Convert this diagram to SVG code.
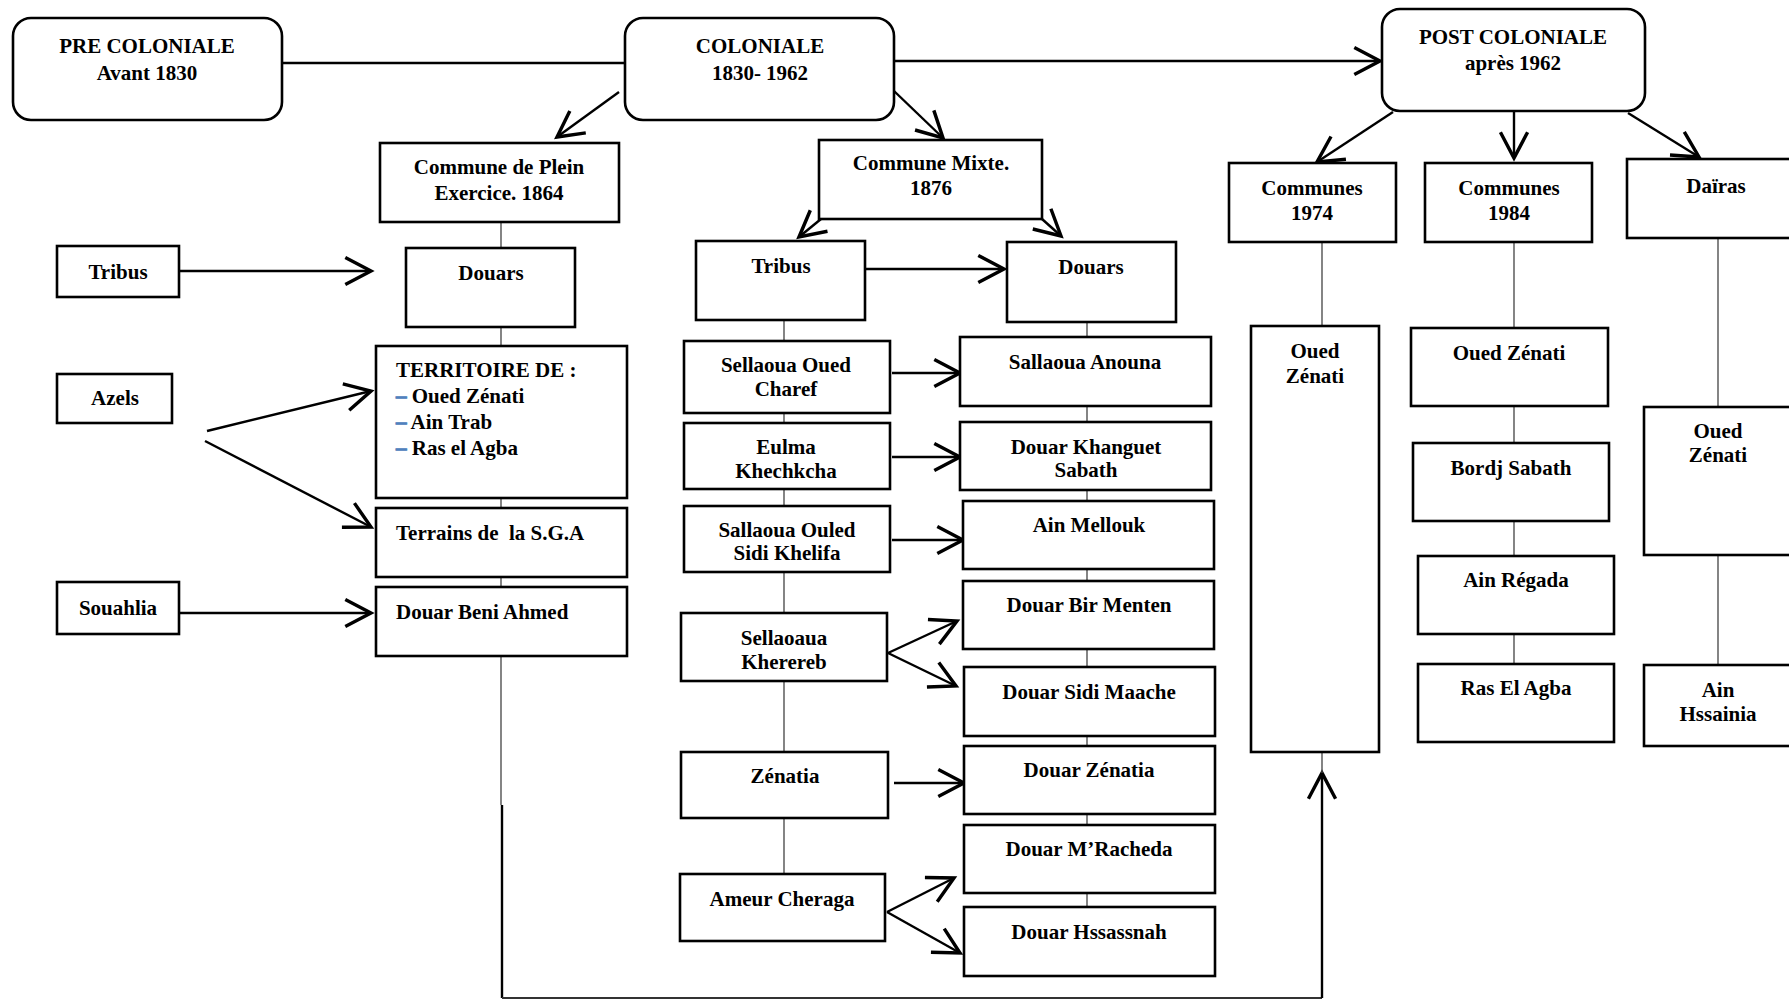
<svg xmlns="http://www.w3.org/2000/svg" width="1789" height="1000" viewBox="0 0 1789 1000">
<style>
.b{fill:#fff;stroke:#000;stroke-width:2.6}
.r{fill:#fff;stroke:#000;stroke-width:2.6}
text{font-family:"Liberation Serif","Times New Roman",serif;font-weight:bold;font-size:21px;fill:#000}
.c{text-anchor:middle}
.d{fill:#4f81bd;stroke:#4f81bd;stroke-width:1}
.a{fill:none;stroke:#000;stroke-width:2.4;marker-end:url(#ah)}
.p{fill:none;stroke:#000;stroke-width:2.4}
.t{fill:none;stroke:#444;stroke-width:1.3}
</style>
<defs>
<marker id="ah" markerUnits="userSpaceOnUse" markerWidth="40" markerHeight="40" viewBox="-22 -14 26 28" refX="0" refY="0" orient="auto" overflow="visible">
<path d="M-18,-9.5 L0,0 L-18,9.5" fill="none" stroke="#000" stroke-width="2.4"/>
</marker>
</defs>
<rect width="1789" height="1000" fill="#fff"/>
<g id="connectors">
<line class="p" x1="282" y1="63" x2="625" y2="63"/>
<line class="a" x1="894" y1="61" x2="1380" y2="61"/>
<line class="a" x1="619" y1="92" x2="557" y2="137"/>
<line class="a" x1="894" y1="91" x2="943" y2="138"/>
<line class="a" x1="821" y1="219" x2="799" y2="237"/>
<line class="a" x1="1042" y1="219" x2="1061" y2="236"/>
<line class="a" x1="1393" y1="112" x2="1317" y2="162"/>
<line class="a" x1="1514" y1="111" x2="1514" y2="158"/>
<line class="a" x1="1628" y1="113" x2="1699" y2="157"/>
<line class="a" x1="179" y1="271" x2="371" y2="271"/>
<line class="a" x1="207" y1="431" x2="371" y2="391"/>
<line class="a" x1="205" y1="441" x2="371" y2="527"/>
<line class="a" x1="179" y1="613" x2="371" y2="613"/>
<line class="a" x1="865" y1="269" x2="1004" y2="269"/>
<line class="a" x1="892" y1="373" x2="960" y2="373"/>
<line class="a" x1="892" y1="457" x2="960" y2="457"/>
<line class="a" x1="892" y1="540" x2="963" y2="540"/>
<line class="a" x1="888" y1="653" x2="957" y2="621"/>
<line class="a" x1="888" y1="653" x2="956" y2="686"/>
<line class="a" x1="894" y1="783" x2="964" y2="783"/>
<line class="a" x1="887" y1="912" x2="954" y2="878"/>
<line class="a" x1="887" y1="912" x2="960" y2="953"/>
<line class="p" x1="502" y1="805" x2="502" y2="998"/>
<line x1="502" y1="998" x2="1322" y2="998" stroke="#333" stroke-width="1.8"/>
<line class="a" x1="1322" y1="998" x2="1322" y2="773"/>
<path class="t" d="M501,222V248M501,327V346M501,498V508M501,577V587M501,656V805"/>
<path class="t" d="M784,320V341M784,413V423M784,489V506M784,572V613M784,681V752M784,818V874"/>
<path class="t" d="M1087,322V337M1087,406V422M1087,490V501M1087,569V581M1087,649V667M1087,736V746M1087,814V825M1087,893V907"/>
<path class="t" d="M1322,242V326M1322,752V773"/>
<path class="t" d="M1514,242V328M1514,406V443M1514,521V556M1514,634V664"/>
<path class="t" d="M1718,238V407M1718,555V665"/>
</g>
<g id="pre"><rect class="r" x="13" y="18" width="269" height="102" rx="18"/><text class="c" x="147" y="53">PRE COLONIALE</text><text class="c" x="147" y="80">Avant 1830</text></g>
<g id="coloniale"><rect class="r" x="625" y="18" width="269" height="102" rx="18"/><text class="c" x="760" y="53">COLONIALE</text><text class="c" x="760" y="80">1830- 1962</text></g>
<g id="post"><rect class="r" x="1382" y="9" width="263" height="102" rx="18"/><text class="c" x="1513" y="44">POST COLONIALE</text><text class="c" x="1513" y="70">après 1962</text></g>
<g id="cpe"><rect class="b" x="380" y="143" width="239" height="79"/><text class="c" x="499" y="174">Commune de Plein</text><text class="c" x="499" y="200">Exercice. 1864</text></g>
<g id="cm"><rect class="b" x="819" y="140" width="223" height="79"/><text class="c" x="931" y="170">Commune Mixte.</text><text class="c" x="931" y="195">1876</text></g>
<g id="c1974"><rect class="b" x="1229" y="163" width="167" height="79"/><text class="c" x="1312" y="195">Communes</text><text class="c" x="1312" y="220">1974</text></g>
<g id="c1984"><rect class="b" x="1425" y="163" width="167" height="79"/><text class="c" x="1509" y="195">Communes</text><text class="c" x="1509" y="220">1984</text></g>
<g id="dairas"><rect class="b" x="1627" y="159" width="180" height="79"/><text class="c" x="1716" y="193">Daïras</text></g>
<g id="tribus-l"><rect class="b" x="57" y="246" width="122" height="51"/><text class="c" x="118" y="279">Tribus</text></g>
<g id="douars-l"><rect class="b" x="406" y="248" width="169" height="79"/><text class="c" x="491" y="280">Douars</text></g>
<g id="azels"><rect class="b" x="57" y="374" width="115" height="49"/><text class="c" x="115" y="405">Azels</text></g>
<g id="souahlia"><rect class="b" x="57" y="582" width="122" height="52"/><text class="c" x="118" y="615">Souahlia</text></g>
<g id="territoire"><rect class="b" x="376" y="346" width="251" height="152"/><text x="396" y="377">TERRITOIRE DE :</text><text x="396" y="403"><tspan class="d">–</tspan> Oued Zénati</text><text x="396" y="429"><tspan class="d">–</tspan> Ain Trab</text><text x="396" y="455"><tspan class="d">–</tspan> Ras el Agba</text></g>
<g id="terrains"><rect class="b" x="376" y="508" width="251" height="69"/><text x="396" y="540" xml:space="preserve">Terrains de  la S.G.A</text></g>
<g id="beni-ahmed"><rect class="b" x="376" y="587" width="251" height="69"/><text x="396" y="619">Douar Beni Ahmed</text></g>
<g id="tribus-m"><rect class="b" x="696" y="241" width="169" height="79"/><text class="c" x="781" y="273">Tribus</text></g>
<g id="douars-m"><rect class="b" x="1007" y="242" width="169" height="80"/><text class="c" x="1091" y="274">Douars</text></g>
<g id="charef"><rect class="b" x="684" y="341" width="206" height="72"/><text class="c" x="786" y="372">Sellaoua Oued</text><text class="c" x="786" y="396">Charef</text></g>
<g id="eulma"><rect class="b" x="684" y="423" width="206" height="66"/><text class="c" x="786" y="454">Eulma</text><text class="c" x="786" y="478">Khechkcha</text></g>
<g id="khelifa"><rect class="b" x="684" y="506" width="206" height="66"/><text class="c" x="787" y="537">Sallaoua Ouled</text><text class="c" x="787" y="560">Sidi Khelifa</text></g>
<g id="kherereb"><rect class="b" x="681" y="613" width="206" height="68"/><text class="c" x="784" y="645">Sellaoaua</text><text class="c" x="784" y="669">Kherereb</text></g>
<g id="zenatia"><rect class="b" x="681" y="752" width="207" height="66"/><text class="c" x="785" y="783">Zénatia</text></g>
<g id="ameur"><rect class="b" x="680" y="874" width="205" height="67"/><text class="c" x="782" y="906">Ameur Cheraga</text></g>
<g id="anouna"><rect class="b" x="960" y="337" width="251" height="69"/><text class="c" x="1085" y="369">Sallaoua Anouna</text></g>
<g id="khanguet"><rect class="b" x="960" y="422" width="251" height="68"/><text class="c" x="1086" y="454">Douar Khanguet</text><text class="c" x="1086" y="477">Sabath</text></g>
<g id="mellouk"><rect class="b" x="963" y="501" width="251" height="68"/><text class="c" x="1089" y="532">Ain Mellouk</text></g>
<g id="bir-menten"><rect class="b" x="963" y="581" width="251" height="68"/><text class="c" x="1089" y="612">Douar Bir Menten</text></g>
<g id="sidi-maache"><rect class="b" x="964" y="667" width="251" height="69"/><text class="c" x="1089" y="699">Douar Sidi Maache</text></g>
<g id="douar-zenatia"><rect class="b" x="964" y="746" width="251" height="68"/><text class="c" x="1089" y="777">Douar Zénatia</text></g>
<g id="mracheda"><rect class="b" x="964" y="825" width="251" height="68"/><text class="c" x="1089" y="856">Douar M’Racheda</text></g>
<g id="hssassnah"><rect class="b" x="964" y="907" width="251" height="69"/><text class="c" x="1089" y="939">Douar Hssassnah</text></g>
<g id="oz1974"><rect class="b" x="1251" y="326" width="128" height="426"/><text class="c" x="1315" y="358">Oued</text><text class="c" x="1315" y="383">Zénati</text></g>
<g id="oz1984"><rect class="b" x="1411" y="328" width="197" height="78"/><text class="c" x="1509" y="360">Oued Zénati</text></g>
<g id="bordj"><rect class="b" x="1413" y="443" width="196" height="78"/><text class="c" x="1511" y="475">Bordj Sabath</text></g>
<g id="regada"><rect class="b" x="1418" y="556" width="196" height="78"/><text class="c" x="1516" y="587">Ain Régada</text></g>
<g id="ras-el-agba"><rect class="b" x="1418" y="664" width="196" height="78"/><text class="c" x="1516" y="695">Ras El Agba</text></g>
<g id="oz-dairas"><rect class="b" x="1644" y="407" width="160" height="148"/><text class="c" x="1718" y="438">Oued</text><text class="c" x="1718" y="462">Zénati</text></g>
<g id="hssainia"><rect class="b" x="1644" y="665" width="160" height="81"/><text class="c" x="1718" y="697">Ain</text><text class="c" x="1718" y="721">Hssainia</text></g>
</svg>
